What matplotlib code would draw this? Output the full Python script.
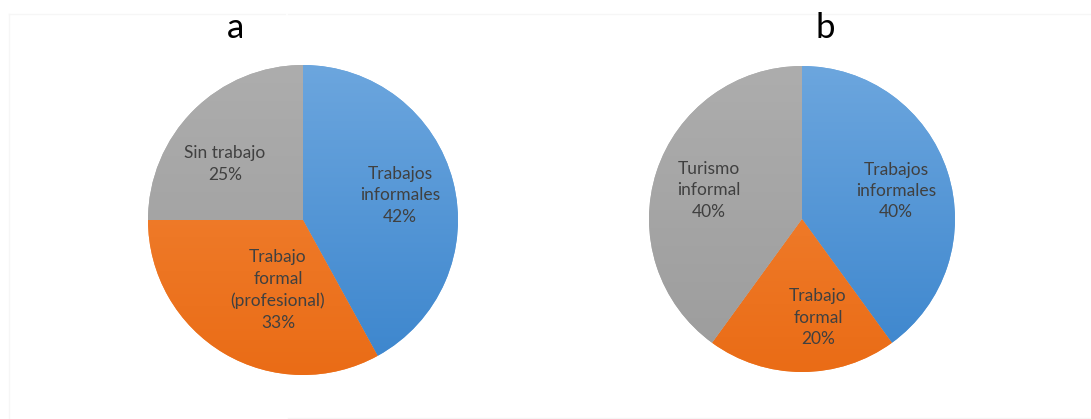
import numpy as np
import matplotlib
matplotlib.use("Agg")
import matplotlib.pyplot as plt
from matplotlib.colors import LinearSegmentedColormap

# ---- data ----
titles = ["a", "b"]
labels_a = ["Trabajos\ninformales", "Trabajo\nformal\n(profesional)", "Sin trabajo"]
values_a = [42, 33, 25]
labels_b = ["Trabajos\ninformales", "Trabajo\nformal", "Turismo\ninformal"]
values_b = [40, 20, 40]

# ---- style ----
colors_top = ["#6ca6de", "#f3873a", "#adadad"]
colors_bot = ["#3b85cd", "#ea6c16", "#9c9c9c"]
text_color = "#404040"
# per-label placement: (angle shift in degrees from wedge middle, radial distance)
place_a = [(0.0, 0.646), (11.0, 0.48), (9.3, 0.62)]
place_b = [(-1.4, 0.64), (9.2, 0.655), (0.8, 0.64)]

W, H = 1091, 419
fig = plt.figure(figsize=(W / 100, H / 100), dpi=100)
fig.patch.set_facecolor("white")

# faint frame lines
frame = fig.add_axes([0, 0, 1, 1], zorder=-1)
frame.set_xlim(0, W); frame.set_ylim(H, 0); frame.axis("off")
fc = "#f6f6f6"
frame.plot([9, 285], [14, 14], color=fc, lw=1)
frame.plot([288, W], [14, 14], color=fc, lw=1)
frame.plot([9, 9], [14, H], color=fc, lw=1)
frame.plot([288, W], [418, 418], color=fc, lw=1)


def draw_pie(rect, values, labels, place, title, title_xy):
    ax = fig.add_axes(rect)
    wedges, _ = ax.pie(values, colors=colors_top, startangle=90, counterclock=False,
                       radius=1.0, wedgeprops=dict(linewidth=0))
    ax.set_xlim(-1, 1); ax.set_ylim(-1, 1)
    ax.set_aspect("equal")
    ax.axis("off")
    grad = np.linspace(1, 0, 256).reshape(-1, 1)
    for i, w in enumerate(wedges):
        cmap = LinearSegmentedColormap.from_list("g", [colors_bot[i], colors_top[i]])
        im = ax.imshow(grad, cmap=cmap, extent=[-1, 1, -1, 1], aspect="auto",
                       origin="upper", zorder=2, vmin=0, vmax=1)
        im.set_clip_path(w)
        mid = np.deg2rad((w.theta1 + w.theta2) / 2 + place[i][0])
        r = place[i][1]
        ax.text(r * np.cos(mid), r * np.sin(mid), f"{labels[i]}\n{values[i]}%",
                ha="center", va="center", fontsize=12.5, color=text_color,
                family="Lato", linespacing=1.42, zorder=5)
    ax.set_xlim(-1, 1); ax.set_ylim(-1, 1)
    fig.text(title_xy[0] / W, 1 - title_xy[1] / H, title, ha="center", va="center",
             fontsize=25, family="Lato", color="black")


draw_pie([148 / W, (H - 375) / H, 310 / W, 310 / H], values_a, labels_a, place_a,
         titles[0], (236, 28))
draw_pie([649 / W, (H - 372) / H, 306 / W, 306 / H], values_b, labels_b, place_b,
         titles[1], (825, 28))

fig.savefig("out.png", dpi=100, facecolor="white")
